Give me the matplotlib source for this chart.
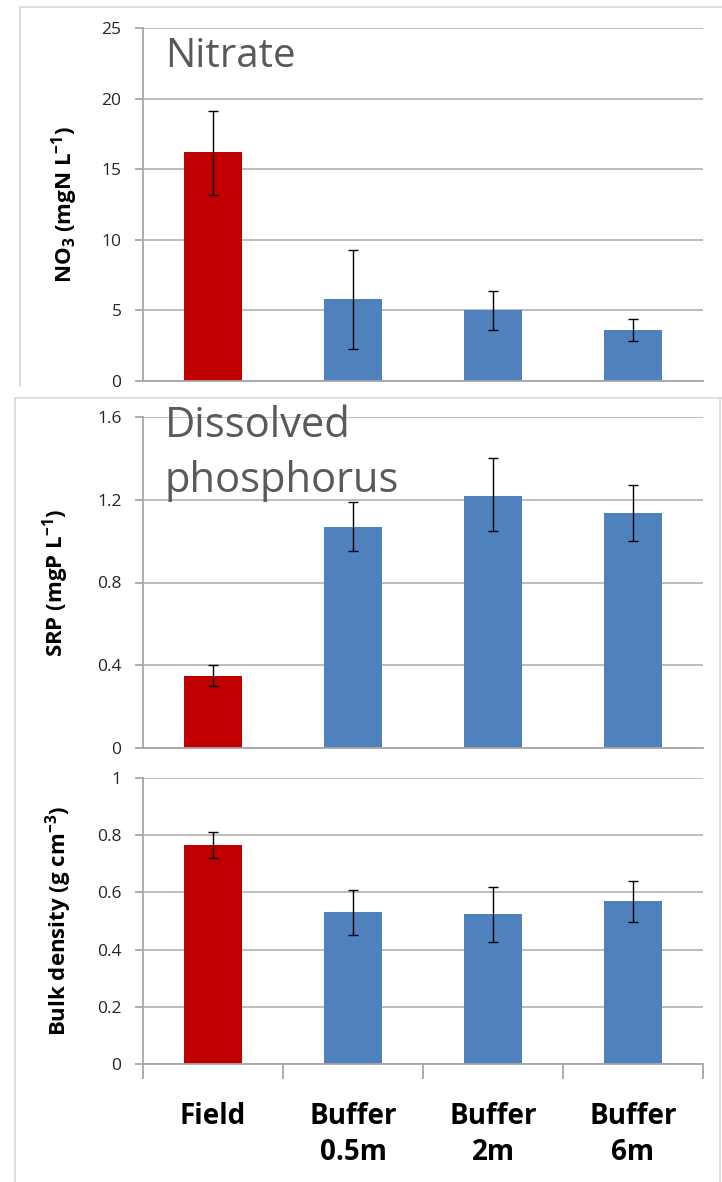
import matplotlib
matplotlib.use("Agg")
import matplotlib.pyplot as plt
import numpy as np
from matplotlib.lines import Line2D

categories = ["Field", "Buffer\n0.5m", "Buffer\n2m", "Buffer\n6m"]

nitrate = [16.2, 5.8, 5.0, 3.6]
nitrate_lo = [13.2, 2.3, 3.6, 2.8]
nitrate_hi = [19.1, 9.3, 6.4, 4.4]

srp = [0.35, 1.07, 1.22, 1.135]
srp_lo = [0.30, 0.95, 1.05, 1.00]
srp_hi = [0.40, 1.19, 1.40, 1.27]

bulk = [0.765, 0.53, 0.525, 0.57]
bulk_lo = [0.72, 0.45, 0.425, 0.495]
bulk_hi = [0.81, 0.61, 0.62, 0.64]

colors = ["#C00000", "#4F81BD", "#4F81BD", "#4F81BD"]

FONT = ["Open Sans", "DejaVu Sans"]
plt.rcParams["font.family"] = FONT
plt.rcParams["mathtext.fontset"] = "custom"
plt.rcParams["mathtext.rm"] = "Open Sans"
plt.rcParams["mathtext.bf"] = "Open Sans:bold"

W, H = 722, 1182
fig = plt.figure(figsize=(W / 100, H / 100), dpi=100)

def box(top, bottom):
    left, right = 143, 703
    return [left / W, 1 - bottom / H, (right - left) / W, (bottom - top) / H]

ax1 = fig.add_axes(box(28, 381))
ax2 = fig.add_axes(box(417, 748))
ax3 = fig.add_axes(box(778, 1064))

GRID = "#B8B8B8"
AXC = "#A6A6A6"
TICKC = "#262626"

def style(ax, vals, lo, hi, ylim, yticks, yticklabels, ylabel, labx):
    x = np.arange(len(vals))
    v = np.array(vals)
    err = np.array([v - np.array(lo), np.array(hi) - v])
    ax.bar(x, v, width=0.42, color=colors, zorder=2)
    ax.errorbar(x, v, yerr=err, fmt="none", ecolor="black", elinewidth=1.0,
                capsize=3.5, capthick=1.0, zorder=3)
    ax.set_xlim(-0.5, len(vals) - 0.5)
    ax.set_ylim(*ylim)
    ax.set_yticks(yticks)
    ax.set_yticklabels(yticklabels)
    ax.yaxis.grid(True, color=GRID, linewidth=1.3, zorder=0)
    ax.set_axisbelow(True)
    for s in ["top", "right"]:
        ax.spines[s].set_visible(False)
    ax.spines["left"].set_color(AXC)
    ax.spines["bottom"].set_color(AXC)
    ax.spines["left"].set_linewidth(1.3)
    ax.spines["bottom"].set_linewidth(1.3)
    ax.tick_params(axis="y", length=6, width=1.3, color=AXC, labelsize=12.5,
                   labelcolor=TICKC, pad=9.5)
    ax.set_ylabel(ylabel, fontsize=16, fontweight="bold", color="black")
    ax.yaxis.set_label_coords(labx, 0.5)

style(ax1, nitrate, nitrate_lo, nitrate_hi, (0, 25), [0, 5, 10, 15, 20, 25],
      ["0", "5", "10", "15", "20", "25"],
      r"NO$_\mathbf{3}$ (mgN L$^\mathbf{-1}$)", -0.1125)
style(ax2, srp, srp_lo, srp_hi, (0, 1.6), [0, 0.4, 0.8, 1.2, 1.6],
      ["0", "0.4", "0.8", "1.2", "1.6"],
      r"SRP (mgP L$^\mathbf{-1}$)", -0.128)
style(ax3, bulk, bulk_lo, bulk_hi, (0, 1.0), [0, 0.2, 0.4, 0.6, 0.8, 1.0],
      ["0", "0.2", "0.4", "0.6", "0.8", "1"],
      r"Bulk density (g cm$^\mathbf{-3}$)", -0.123)

for ax in (ax1, ax2):
    ax.set_xticks([])

ax3.set_xticks(np.arange(len(categories)))
ax3.set_xticklabels(categories, fontsize=20, fontweight="bold", color="black",
                    linespacing=1.35)
ax3.tick_params(axis="x", which="major", length=0, pad=27)
ax3.set_xticks(np.arange(-0.5, len(categories)), minor=True)
ax3.tick_params(axis="x", which="minor", length=11, width=1.3, color=AXC)

TITLEC = "#595959"
ax1.text(0.039, 0.889, "Nitrate", transform=ax1.transAxes, fontsize=29,
         color=TITLEC, va="baseline", ha="left")
ax2.text(0.039, 0.773, "Dissolved\nphosphorus", transform=ax2.transAxes,
         fontsize=30, color=TITLEC, va="baseline", ha="left", linespacing=1.4)

# faint frame lines of the original chart boxes
FR = "#D9D9D9"
def fl(x0, y0, x1, y1):
    fig.add_artist(Line2D([x0 / W, x1 / W], [1 - y0 / H, 1 - y1 / H],
                          color=FR, linewidth=1.2, transform=fig.transFigure))
fl(20, 7, 722, 7)
fl(20, 7, 20, 386)
fl(15, 398, 722, 398)
fl(15, 398, 15, 1182)
fl(720, 398, 720, 1182)

fig.savefig("out.png", dpi=100)
